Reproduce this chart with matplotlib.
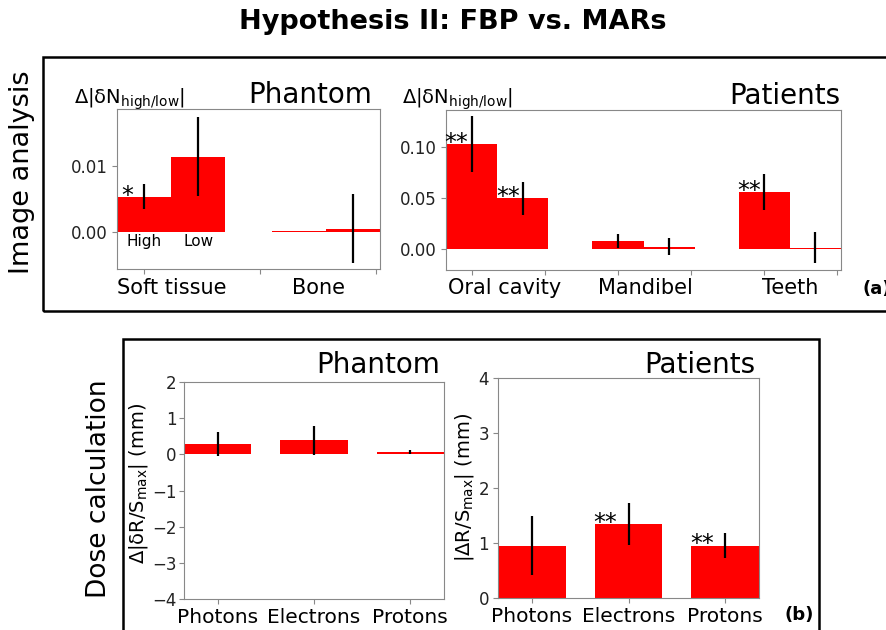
import numpy as np
import matplotlib
matplotlib.use("Agg")
import matplotlib.pyplot as plt
from matplotlib.patches import Rectangle

plt.rcParams['mathtext.default'] = 'regular'

# (a) image analysis, phantom: [high, low] per region
ph_regions = ['Soft tissue', 'Bone']
ph_high = [0.0053, 0.0001]
ph_high_err = [0.0019, 0.0]
ph_low = [0.0114, 0.0005]
ph_low_err = [0.0060, 0.0052]

# (a) image analysis, patients
pt_regions = ['Oral cavity', 'Mandibel', 'Teeth']
pt_high = [0.1027, 0.0081, 0.0556]
pt_high_err = [0.0270, 0.0068, 0.0175]
pt_low = [0.0497, 0.0023, 0.0013]
pt_low_err = [0.0163, 0.0087, 0.0150]

# (b) dose calculation
beams = ['Photons', 'Electrons', 'Protons']
dose_ph = [0.29, 0.39, 0.07]
dose_ph_err = [0.34, 0.40, 0.05]
dose_pt = [0.95, 1.34, 0.95]
dose_pt_err = [0.54, 0.38, 0.23]

W, H = 886, 630
fig = plt.figure(figsize=(W / 100, H / 100), dpi=100)

def ax_at(x0, x1, y0, y1):
    return fig.add_axes([x0 / W, 1 - y1 / H, (x1 - x0) / W, (y1 - y0) / H])

def ftext(x, y, s, **kw):
    kw.setdefault('ha', 'center')
    kw.setdefault('va', 'center')
    return fig.text(x / W, 1 - y / H, s, **kw)

def style(ax):
    for sp in ax.spines.values():
        sp.set_color('#888888')
    ax.tick_params(colors='#888888', labelcolor='#222222', labelsize=12, pad=3)

red = '#ff0000'
ekw = dict(ecolor='black', elinewidth=1.6, capsize=0)
w = 0.7

# frames
fig.add_artist(Rectangle((43 / W, 1 - 311 / H), (900 - 43) / W, (311 - 57) / H,
                         transform=fig.transFigure, fill=False, lw=1.8, ec='black', clip_on=False))
fig.add_artist(Rectangle((123 / W, 1 - 640 / H), (819 - 123) / W, (640 - 339) / H,
                         transform=fig.transFigure, fill=False, lw=1.8, ec='black', clip_on=False))

ftext(453, 22, 'Hypothesis II: FBP vs. MARs', fontsize=19.5, fontweight='bold')
ftext(22, 172, 'Image analysis', fontsize=19.5, rotation=90)
ftext(99, 489, 'Dose calculation', fontsize=19, rotation=90)

# ---- (a) phantom
ax1 = ax_at(117, 380, 109, 269)
xp = np.array([0, 2])
ax1.bar(xp, ph_high, w, yerr=ph_high_err, color=red, error_kw=ekw)
ax1.bar(xp + w, ph_low, w, yerr=ph_low_err, color=red, error_kw=ekw)
ax1.set_xlim(-0.35, 3.05)
ax1.set_ylim(-0.0056, 0.0186)
ax1.set_xticks([0, 1.5, 3])
ax1.set_xticklabels([])
ax1.set_yticks([0, 0.01])
ax1.set_yticklabels(['0.00', '0.01'])
style(ax1)
for x, lab in zip([0.36, 2.26], ph_regions):
    ax1.text(x, -0.119, lab, transform=ax1.get_xaxis_transform(), ha='center', va='center', fontsize=15)
ax1.text(0, -0.0015, 'High', ha='center', va='center', fontsize=11)
ax1.text(w, -0.0015, 'Low', ha='center', va='center', fontsize=11)
ax1.annotate('*', xy=(-0.35, ph_high[0]), xytext=(3, 1), textcoords='offset points',
             ha='left', va='center', fontsize=17)
ftext(74, 99, r'$\Delta|\delta$N$_{high/low}|$', fontsize=14, ha='left')
ftext(372, 95, 'Phantom', fontsize=20, ha='right')

# ---- (a) patients
ax2 = ax_at(446, 841, 110, 270)
xq = np.array([0, 2, 4])
ax2.bar(xq, pt_high, w, yerr=pt_high_err, color=red, error_kw=ekw)
ax2.bar(xq + w, pt_low, w, yerr=pt_low_err, color=red, error_kw=ekw)
ax2.set_xlim(-0.35, 5.05)
ax2.set_ylim(-0.0206, 0.136)
ax2.set_xticks(range(6))
ax2.set_xticklabels([])
ax2.set_yticks([0, 0.05, 0.10])
ax2.set_yticklabels(['0.00', '0.05', '0.10'])
style(ax2)
for x, lab in zip([0.45, 2.37, 4.35], pt_regions):
    ax2.text(x, -0.1125, lab, transform=ax2.get_xaxis_transform(), ha='center', va='center', fontsize=15)
for x, v in [(0 - w / 2, pt_high[0]), (w / 2, pt_low[0]), (4 - w / 2, pt_high[2])]:
    ax2.annotate('**', xy=(x, v), xytext=(-1, 1), textcoords='offset points',
                 ha='left', va='center', fontsize=17)
ftext(402, 99, r'$\Delta|\delta$N$_{high/low}|$', fontsize=14, ha='left')
ftext(840, 96, 'Patients', fontsize=20, ha='right')
ftext(863, 289, '(a)', fontsize=13, fontweight='bold', ha='left')

# ---- (b) phantom
ax3 = ax_at(184, 444, 382, 599)
xb = np.arange(3)
ax3.bar(xb, dose_ph, w, yerr=dose_ph_err, color=red, error_kw=ekw)
ax3.set_xlim(-0.35, 2.35)
ax3.set_ylim(-4, 2)
ax3.set_yticks(range(-4, 3))
ax3.set_xticks(xb)
ax3.set_xticklabels(beams)
style(ax3)
ax3.tick_params(axis='x', labelsize=14.5, labelcolor='black')
ax3.tick_params(axis='y', pad=2)
ftext(139, 483, r'$\Delta|\delta$R/S$_{max}|$ (mm)', fontsize=14, rotation=90)
ftext(440, 365, 'Phantom', fontsize=20, ha='right')

# ---- (b) patients
ax4 = ax_at(498, 759, 378, 598)
ax4.bar(xb, dose_pt, w, yerr=dose_pt_err, color=red, error_kw=ekw)
ax4.set_xlim(-0.35, 2.35)
ax4.set_ylim(0, 4)
ax4.set_yticks(range(5))
ax4.set_xticks(xb)
ax4.set_xticklabels(beams)
style(ax4)
ax4.tick_params(axis='x', labelsize=14.5, labelcolor='black')
for i in [1, 2]:
    ax4.annotate('**', xy=(i - w / 2, dose_pt[i]), xytext=(-1, 1), textcoords='offset points',
                 ha='left', va='center', fontsize=17)
ftext(464, 487, r'$|\Delta$R/S$_{max}|$ (mm)', fontsize=14, rotation=90)
ftext(755, 365, 'Patients', fontsize=20, ha='right')
ftext(785, 615, '(b)', fontsize=13, fontweight='bold', ha='left')

fig.savefig('out.png', dpi=100)
